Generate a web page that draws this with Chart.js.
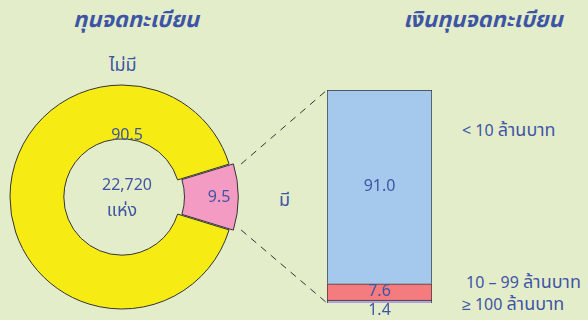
<!DOCTYPE html>
<html>
<head>
<meta charset="utf-8">
<script src="https://cdn.jsdelivr.net/npm/chart.js@4"></script>
<style>
  body { margin: 0; background: #e3edc9; width: 588px; height: 320px; overflow: hidden; position: relative;
         font-family: Tahoma, 'Noto Sans Thai', 'Noto Sans', sans-serif; color: #3e55a5; }
  canvas { position: absolute; }
  .txt { position: absolute; white-space: nowrap; line-height: 1; }
  .title { font-size: 22px; font-weight: bold; font-style: italic; transform: translateX(-50%); }
  .lbl { font-size: 16px; }
  .th { font-size: 18px; }
</style>
</head>
<body>
<div class="txt title" style="left:136px; top:10px;">ทุนจดทะเบียน</div>
<div class="txt title" style="left:483px; top:10px;">เงินทุนจดทะเบียน</div>
<div class="txt lbl th" style="left:109px; top:57px;">ไม่มี</div>
<div class="txt lbl th" style="left:279px; top:192px;">มี</div>
<div class="txt lbl" style="left:462px; top:122px;">&lt; 10 <span class="th">ล้านบาท</span></div>
<div class="txt lbl" style="left:466px; top:274px;">10 – 99 <span class="th">ล้านบาท</span></div>
<div class="txt lbl" style="left:462px; top:296px;">≥ 100 <span class="th">ล้านบาท</span></div>

<canvas id="pie" width="300" height="244" style="left:0; top:75px;"></canvas>
<canvas id="bar" width="125" height="240" style="left:317px; top:80px;"></canvas>
<canvas id="lines" width="588" height="320" style="left:0; top:0; pointer-events:none;"></canvas>

<script>
const pieLabels  = ['ไม่มี', 'มี'];
const pieValues  = [90.5, 9.5];
const pieColors  = ['#f7eb14', '#f49bc4'];
const totalText  = ['22,720', 'แห่ง'];

const barLabels  = ['≥ 100 ล้านบาท', '10 – 99 ล้านบาท', '< 10 ล้านบาท'];
const barValues  = [1.4, 7.6, 91.0];
const barColors  = ['#b4a0d6', '#f47c7f', '#a5c9ec'];

const TEXT = '#3e55a5';
const FONT = "Tahoma, 'Noto Sans Thai', 'Noto Sans', sans-serif";

const pieLabelPlugin = {
    id: 'pieLabels',
    afterDatasetsDraw(chart) {
        const ctx = chart.ctx;
        const arcs = chart.getDatasetMeta(0).data;
        ctx.save();
        ctx.fillStyle = TEXT;
        ctx.font = '16px ' + FONT;
        ctx.textAlign = 'center';
        ctx.textBaseline = 'middle';
        // yellow label sits on the inner edge at the top, pink label inside its slice
        const a0 = arcs[0];
        ctx.fillText(pieValues[0].toFixed(1), a0.x + 5, a0.y - a0.innerRadius - 2);
        const a1 = arcs[1];
        const mid = (a1.startAngle + a1.endAngle) / 2;
        const r = (a1.innerRadius + a1.outerRadius) / 2 + a1.options.offset;
        ctx.fillText(pieValues[1].toFixed(1), a1.x + Math.cos(mid) * r, a1.y + Math.sin(mid) * r + 2);
        ctx.fillText(totalText[0], a0.x + 5, a0.y - 10);
        ctx.font = '18px ' + FONT;
        ctx.fillText(totalText[1], a0.x, a0.y + 15);
        ctx.restore();
    }
};

const barLabelPlugin = {
    id: 'barLabels',
    afterDatasetsDraw(chart) {
        const ctx = chart.ctx;
        ctx.save();
        ctx.fillStyle = TEXT;
        ctx.font = '16px ' + FONT;
        ctx.textAlign = 'center';
        ctx.textBaseline = 'middle';
        chart.data.datasets.forEach((ds, i) => {
            const el = chart.getDatasetMeta(i).data[0];
            const y = i === 0 ? el.base + 9 : (el.y + el.base) / 2 + 1;
            ctx.fillText(ds.data[0].toFixed(1), el.x, y);
        });
        ctx.restore();
    }
};

const pieChart = new Chart(document.getElementById('pie'), {
    type: 'doughnut',
    data: { labels: pieLabels, datasets: [{ data: pieValues, backgroundColor: pieColors, borderColor: '#333', borderWidth: 1, offset: [0, 12] }] },
    options: { responsive: false, animation: false,
        rotation: 90 - 360 * (pieValues[0] + pieValues[1] / 2) / 100,   // pink slice points right
        radius: 112, cutout: 60, layout: { padding: { right: 56 } },
        plugins: { legend: { display: false }, tooltip: { enabled: false } } },
    plugins: [pieLabelPlugin]
});

const barChart = new Chart(document.getElementById('bar'), {
    type: 'bar',
    data: { labels: [''], datasets: barValues.map((v, i) => ({ label: barLabels[i], data: [v], backgroundColor: barColors[i], borderColor: '#333', borderWidth: 1, barPercentage: 1, categoryPercentage: 1 })) },
    options: { responsive: false, animation: false, layout: { padding: { left: 10, right: 10, top: 10, bottom: 17 } },
        scales: { x: { stacked: true, display: false }, y: { stacked: true, display: false, min: 0, max: 100 } },
        plugins: { legend: { display: false }, tooltip: { enabled: false } } },
    plugins: [barLabelPlugin]
});

function drawConnectors() {
    const ctx = document.getElementById('lines').getContext('2d');
    const pc = document.getElementById('pie'), bc = document.getElementById('bar');
    const arc = pieChart.getDatasetMeta(0).data[1];
    const mid = (arc.startAngle + arc.endAngle) / 2;
    const off = arc.options.offset;
    const corner = a => [pc.offsetLeft + arc.x + Math.cos(mid) * off + Math.cos(a) * arc.outerRadius,
                         pc.offsetTop + arc.y + Math.sin(mid) * off + Math.sin(a) * arc.outerRadius];
    const topEl = barChart.getDatasetMeta(barValues.length - 1).data[0];
    const botEl = barChart.getDatasetMeta(0).data[0];
    const bx = bc.offsetLeft + topEl.x - topEl.width / 2;
    ctx.strokeStyle = '#333';
    ctx.lineWidth = 1;
    ctx.setLineDash([7, 6]);
    [[corner(arc.startAngle), [bx, bc.offsetTop + topEl.y]], [corner(arc.endAngle), [bx, bc.offsetTop + botEl.base]]].forEach(([p, q]) => {
        ctx.beginPath(); ctx.moveTo(p[0], p[1]); ctx.lineTo(q[0], q[1]); ctx.stroke();
    });
}
drawConnectors();
</script>
</body>
</html>
